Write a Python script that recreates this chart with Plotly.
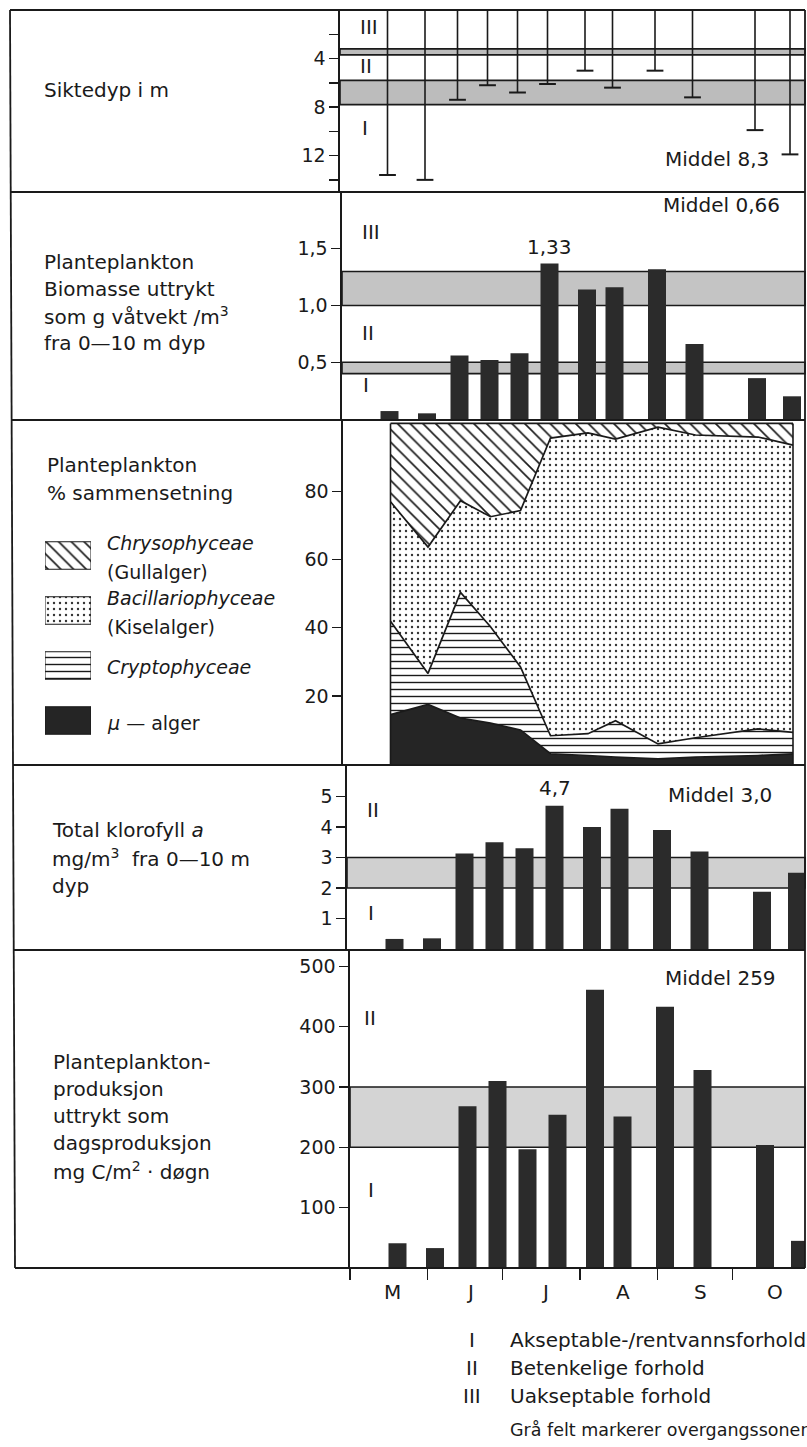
import datetime as dt
import plotly.graph_objects as go

W, H = 807, 1447
INK = "#1a1a1a"

# ---------------- data ----------------
sample_dates = ["1979-05-20", "1979-06-04", "1979-06-17", "1979-06-29", "1979-07-11", "1979-07-23",
                "1979-08-07", "1979-08-18", "1979-09-04", "1979-09-19", "1979-10-14", "1979-10-28"]

secchi_m = [13.6, 14.0, 7.4, 6.2, 6.8, 6.1, 5.0, 6.4, 5.0, 7.2, 9.9, 11.9]
biomass_g = [0.07, 0.05, 0.56, 0.52, 0.58, 1.37, 1.14, 1.16, 1.32, 0.66, 0.36, 0.20]

pct_mu = [14.5, 17.5, 13.5, 12.0, 10.0, 3.0, 2.5, 2.0, 1.5, 2.0, 2.5, 3.0]
pct_crypto = [27.4, 9.1, 36.9, 28.3, 18.5, 5.3, 6.4, 10.7, 4.4, 5.7, 7.8, 6.3]
pct_bacill = [35.1, 37.1, 26.9, 32.3, 45.9, 87.4, 88.3, 82.7, 93.0, 88.9, 85.7, 84.3]
pct_chryso = [23.0, 36.3, 22.7, 27.4, 25.6, 4.3, 2.8, 4.6, 1.1, 3.4, 4.0, 6.4]

chl_a = [0.33, 0.35, 3.13, 3.5, 3.3, 4.7, 4.0, 4.6, 3.9, 3.2, 1.88, 2.5]
production = [41, 33, 268, 310, 197, 254, 461, 251, 433, 328, 204, 45]

month_starts = ["1979-05-01", "1979-06-01", "1979-07-01", "1979-08-01", "1979-09-01", "1979-10-01"]
month_labels = ["M", "J", "J", "A", "S", "O"]

secchi_tickvals = [4, 8, 12]
secchi_minor_ticks = [2, 6, 10, 14]
bio_tickvals = [0.5, 1.0, 1.5]
bio_ticktext = ["0,5", "1,0", "1,5"]
comp_tickvals = [20, 40, 60, 80]
chl_tickvals = [1, 2, 3, 4, 5]
prod_tickvals = [100, 200, 300, 400, 500]

secchi_bands = [(3.2, 3.7), (5.8, 7.8)]
bio_bands = [(0.4, 0.5), (1.0, 1.3)]
chl_bands = [(2, 3)]
prod_bands = [(200, 300)]

# ---------------- layout helpers ----------------
def pxx(x):
    return x / W


def pyy(y):
    return 1 - y / H


PX_PER_DAY = 2.5
RIGHT = 805
# (axis x, top y, bottom y) in page pixels -- the scan is slightly skewed
panels = [(340, 10, 192), (342, 192, 419), (343, 420, 764), (347, 766, 949), (350, 950, 1268)]
yranges = [[15.0, 0], [0, 2.0], [0, 101], [0, 6.0], [0, 527]]
ticks = [(secchi_tickvals, [str(v) for v in secchi_tickvals]), (bio_tickvals, bio_ticktext),
         (comp_tickvals, [str(v) for v in comp_tickvals]),
         (chl_tickvals, [str(v) for v in chl_tickvals]),
         (prod_tickvals, [str(v) for v in prod_tickvals])]

start = dt.datetime.fromisoformat(month_starts[0])
BAR_W = 7.2 * 86400000
FS = 20

fig = go.Figure()
layout = dict(width=W, height=H, margin=dict(l=0, r=0, t=0, b=0),
              paper_bgcolor="white", plot_bgcolor="rgba(0,0,0,0)", showlegend=False,
              font=dict(family="DejaVu Sans", size=FS, color=INK))

for k, ((x0, top, bot), yr, (tv, tt)) in enumerate(zip(panels, yranges, ticks), start=1):
    end = start + dt.timedelta(days=(RIGHT - x0) / PX_PER_DAY)
    xa = dict(domain=[pxx(x0), pxx(RIGHT)], range=[start, end], type="date",
              anchor=f"y{k}", showgrid=False, zeroline=False, showline=False,
              showticklabels=False, ticks="", fixedrange=True)
    if k == 5:
        xa.update(tickvals=month_starts, ticks="outside", ticklen=11, tickwidth=1.5, tickcolor=INK)
    ya = dict(domain=[pyy(bot), pyy(top)], range=yr, anchor=f"x{k}", showgrid=False,
              zeroline=False, showline=True, linecolor=INK, linewidth=1.6,
              ticks="outside", ticklen=9, tickwidth=1.4, tickcolor=INK,
              tickvals=tv, ticktext=tt, tickfont=dict(size=19, color=INK), fixedrange=True)
    if k == 1:
        ya["minor"] = dict(tickvals=secchi_minor_ticks, ticks="outside", ticklen=9,
                           tickwidth=1.4, tickcolor=INK, showgrid=False)
    layout["xaxis" if k == 1 else f"xaxis{k}"] = xa
    layout["yaxis" if k == 1 else f"yaxis{k}"] = ya

# auxiliary axis for the legend swatches in panel 3
layout["xaxis6"] = dict(domain=[pxx(45), pxx(91)], range=[0, 1], visible=False, fixedrange=True, anchor="y6")
layout["yaxis6"] = dict(domain=[pyy(748), pyy(528)], range=[0, 4], visible=False, fixedrange=True, anchor="x6")

# ---------------- panel 1: Secchi depth ----------------
fig.add_trace(go.Scatter(
    x=sample_dates, y=secchi_m, xaxis="x", yaxis="y", mode="markers",
    marker=dict(symbol="line-ew", size=12, line=dict(color=INK, width=2)),
    error_y=dict(type="data", symmetric=False, array=[0] * len(secchi_m), arrayminus=secchi_m,
                 width=0, thickness=1.6, color=INK),
    hoverinfo="x+y"))

# ---------------- panel 2: biomass ----------------
fig.add_trace(go.Bar(x=sample_dates, y=biomass_g, width=BAR_W, xaxis="x2", yaxis="y2",
                     marker=dict(color="#2b2b2b", line=dict(width=0))))

# ---------------- panel 3: composition ----------------
mu_style = dict(fillcolor="#252525")
crypto_style = dict(fillcolor="white", fillpattern=dict(shape="-", size=7, solidity=0.2,
                                                         fgcolor=INK, bgcolor="white", fillmode="replace"))
bacill_style = dict(fillcolor="white", fillpattern=dict(shape=".", size=6, solidity=0.12,
                                                         fgcolor="#333333", bgcolor="white", fillmode="replace"))
chryso_style = dict(fillcolor="white", fillpattern=dict(shape="\\", size=9, solidity=0.18,
                                                         fgcolor=INK, bgcolor="white", fillmode="replace"))
layers = [("μ — alger", pct_mu, mu_style),
          ("Cryptophyceae", pct_crypto, crypto_style),
          ("Bacillariophyceae", pct_bacill, bacill_style),
          ("Chrysophyceae", pct_chryso, chryso_style)]
for name, vals, style in layers:
    fig.add_trace(go.Scatter(x=sample_dates, y=vals, name=name, xaxis="x3", yaxis="y3",
                             stackgroup="comp", mode="lines",
                             line=dict(color=INK, width=1.7), **style))
for d in (sample_dates[0], sample_dates[-1]):
    fig.add_trace(go.Scatter(x=[d, d], y=[0, 100], xaxis="x3", yaxis="y3", mode="lines",
                             line=dict(color=INK, width=1.6), hoverinfo="skip"))

# legend swatches (bottom to top: mu, Crypto, Bacill, Chryso)
for i, (name, vals, style) in enumerate(layers):
    fig.add_trace(go.Scatter(x=[0, 1, 1, 0, 0], y=[i + 0.25, i + 0.25, i + 0.75, i + 0.75, i + 0.25],
                             xaxis="x6", yaxis="y6", mode="lines", fill="toself",
                             line=dict(color=INK, width=1), hoverinfo="skip", **style))

# ---------------- panel 4: chlorophyll ----------------
fig.add_trace(go.Bar(x=sample_dates, y=chl_a, width=BAR_W, xaxis="x4", yaxis="y4",
                     marker=dict(color="#2b2b2b", line=dict(width=0))))

# ---------------- panel 5: production ----------------
fig.add_trace(go.Bar(x=sample_dates, y=production, width=BAR_W, xaxis="x5", yaxis="y5",
                     marker=dict(color="#2b2b2b", line=dict(width=0))))

# ---------------- shapes ----------------
shapes = []
band_specs = [("x", "y", secchi_bands, "#bcbcbc"), ("x2", "y2", bio_bands, "#c4c4c4"),
              ("x4", "y4", chl_bands, "#d0d0d0"), ("x5", "y5", prod_bands, "#d4d4d4")]
for xr, yr_, bands, col in band_specs:
    for a, b in bands:
        shapes.append(dict(type="rect", xref=f"{xr} domain", yref=yr_, x0=0, x1=1, y0=a, y1=b,
                           fillcolor=col, line=dict(color=INK, width=1.6), layer="below"))


def left_frame_x(y):
    return 10 + 5 * (y - 10) / 1258


def hline(y, width=1.8):
    return dict(type="line", xref="paper", yref="paper", x0=pxx(left_frame_x(y)), x1=pxx(RIGHT),
                y0=pyy(y), y1=pyy(y), line=dict(color=INK, width=width))


for y in (10, 192, 420, 765, 950, 1268):
    shapes.append(hline(y))
shapes.append(dict(type="line", xref="paper", yref="paper", x0=pxx(10), x1=pxx(15),
                   y0=pyy(10), y1=pyy(1268), line=dict(color=INK, width=1.8)))
shapes.append(dict(type="line", xref="paper", yref="paper", x0=pxx(RIGHT), x1=pxx(RIGHT),
                   y0=pyy(10), y1=pyy(1268), line=dict(color=INK, width=1.8)))
layout["shapes"] = shapes

# ---------------- annotations ----------------
ann = []


def txt(x, y, s, size=FS, xanchor="left"):
    ann.append(dict(x=pxx(x), y=pyy(y), xref="paper", yref="paper", text=s, showarrow=False,
                    xanchor=xanchor, yanchor="middle", font=dict(size=size, color=INK)))


# left column labels
txt(42, 90, "Siktedyp i m")
for y, s in zip([262, 289, 316, 343],
                ["Planteplankton", "Biomasse uttrykt", "som g våtvekt /m<sup>3</sup>", "fra 0—10 m dyp"]):
    txt(42, y, s)
txt(45, 465, "Planteplankton")
txt(45, 493, "% sammensetning")
for y, s in zip([543, 572, 598, 627, 667, 723],
                ["<i>Chrysophyceae</i>", "(Gullalger)", "<i>Bacillariophyceae</i>", "(Kiselalger)",
                 "<i>Cryptophyceae</i>", "<i>μ</i> — alger"]):
    txt(105, y, s, size=19)
for y, s in zip([830, 858, 886], ["Total klorofyll <i>a</i>", "mg/m<sup>3</sup>  fra 0—10 m", "dyp"]):
    txt(50, y, s)
for y, s in zip([1062, 1089, 1116, 1143, 1171],
                ["Planteplankton-", "produksjon", "uttrykt som", "dagsproduksjon",
                 "mg C/m<sup>2</sup> · døgn"]):
    txt(51, y, s)

# class numerals inside the panels
for x, y, s in [(358, 27, "III"), (358, 66, "II"), (360, 128, "I"),
                (360, 232, "III"), (360, 333, "II"), (361, 385, "I"),
                (365, 810, "II"), (366, 913, "I"),
                (362, 1018, "II"), (366, 1190, "I")]:
    txt(x, y, s)

# mean values
txt(663, 159, "Middel 8,3")
txt(661, 205, "Middel 0,66")
txt(666, 795, "Middel 3,0")
txt(663, 978, "Middel 259")

# peak labels
imax_b = biomass_g.index(max(biomass_g))
ann.append(dict(x=sample_dates[imax_b], y=biomass_g[imax_b], xref="x2", yref="y2", text="1,33",
                showarrow=False, yanchor="bottom", yshift=3, font=dict(size=FS, color=INK)))
imax_c = chl_a.index(max(chl_a))
ann.append(dict(x=sample_dates[imax_c], y=chl_a[imax_c], xref="x4", yref="y4", text="4,7",
                showarrow=False, yanchor="bottom", yshift=4, font=dict(size=FS, color=INK)))

# month labels (mid-month)
for ms, lab in zip(month_starts, month_labels):
    mid = dt.datetime.fromisoformat(ms) + dt.timedelta(days=17)
    ann.append(dict(x=mid, y=pyy(1292), xref="x5", yref="paper", text=lab, showarrow=False,
                    xanchor="center", yanchor="middle", font=dict(size=FS, color=INK)))

# bottom key
for y, num, s in [(1340, "I", "Akseptable-/rentvannsforhold"), (1368, "II", "Betenkelige forhold"),
                  (1396, "III", "Uakseptable forhold")]:
    txt(472, y, num, xanchor="center")
    txt(508, y, s)
txt(508, 1430, "Grå felt markerer overgangssoner", size=17.5)

layout["annotations"] = ann
fig.update_layout(**layout)
fig.write_html("out.html",
               config={"displayModeBar": False, "staticPlot": True},
               post_script="document.body.style.margin='0';"
                           "document.documentElement.style.overflow='hidden';")
